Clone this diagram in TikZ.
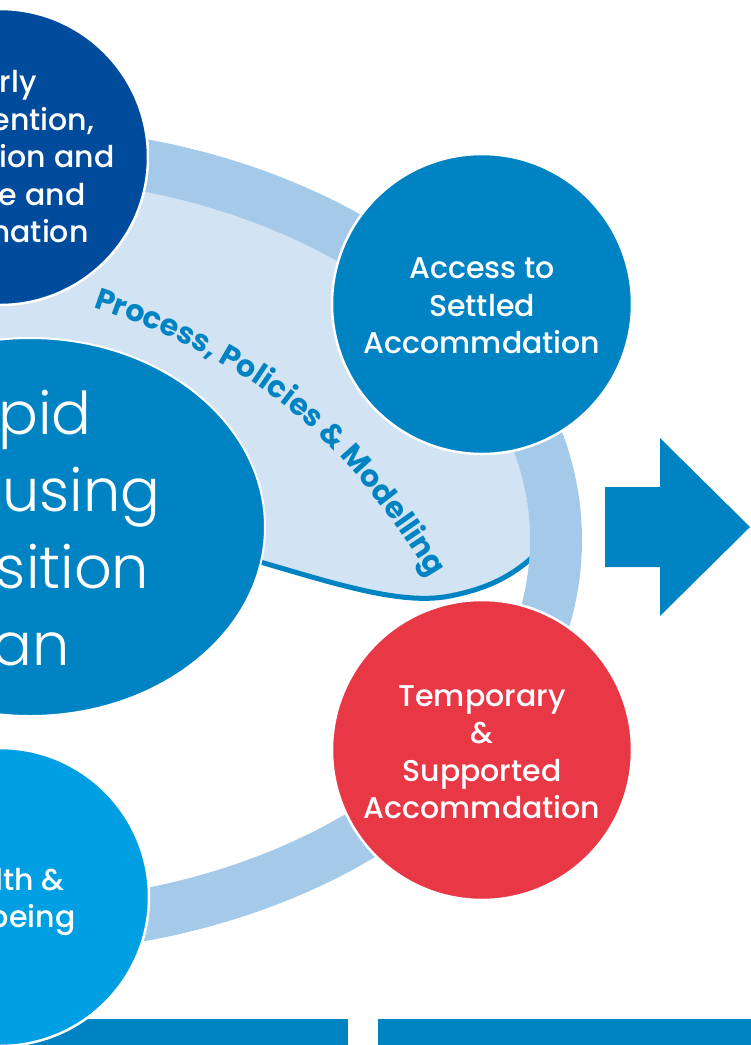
\documentclass[tikz,border=0pt]{standalone}
\usepackage{fontspec}
\usetikzlibrary{shapes.geometric,decorations.text}
\newfontfamily\popL{Poppins Light}
\newfontfamily\popM{Poppins Medium}
\newfontfamily\popB{Poppins Bold}
\definecolor{navy}{HTML}{004B9B}
\definecolor{midblue}{HTML}{0083C3}
\definecolor{skyblue}{HTML}{009FE3}
\definecolor{tomato}{HTML}{E83846}
\definecolor{band}{HTML}{A5C9E8}
\definecolor{paleblue}{HTML}{D2E3F3}
\begin{document}
\begin{tikzpicture}[x=1pt,y=-1pt,
  bubble/.style={circle, minimum size=300pt, inner sep=0pt, draw=white,
    line width=2.5pt},
  bubtext/.style={text=white, align=center,
    font=\popM\fontsize{30}{37.5}\selectfont},
  ring/.style={draw=band, line width=52pt},
]
\useasboundingbox (0,0) rectangle (751,1045);
\clip (0,0) rectangle (751,1045);

% pale area inside the ring, above its curved lower edge
\begin{scope}
  \clip (-20,-20) -- (770,-20) -- (770,548) -- (540,550)
    .. controls (515,575) and (490,588) .. (450,596)
    .. controls (400,606) and (330,582) .. (250,559)
    -- (-20,559) -- cycle;
  \fill[paleblue] (0,540) ellipse [x radius=530pt, y radius=362pt];
\end{scope}
\draw[midblue, line width=5pt] (250,559) .. controls (330,582) and (400,606) .. (450,596)
  .. controls (490,588) and (515,575) .. (540,550);

% the ring linking the themes
\path[ring] (0,540) ellipse [x radius=556pt, y radius=388pt];

% curved label
\path[decorate, decoration={text along path, text align={left indent=14pt},
  text color=midblue,
  text={|\popB\fontsize{30}{30}\selectfont|Process, Policies {\&} Modelling}}]
  (80,303) .. controls (261,362) and (352,440) .. (452,615);

% central plan
\node[ellipse, fill=midblue, draw=white, line width=2pt, minimum width=470pt,
  minimum height=378pt, inner sep=0pt] (plan) at (30,527) {};
\node[text=white, align=center, font=\popL\fontsize{59}{77}\selectfont]
  (plantext) at (8,528) {Rapid\\Rehousing\\Transition\\Plan};

% themes
\node[bubble, fill=navy, minimum size=296pt] (early) at (0,157) {};
\node[bubtext] (earlytext) at (early.center)
  {Early\\Intervention,\\Prevention and\\Advice and\\Information};
\node[bubble, fill=midblue] (settled) at (482,304) {};
\node[bubtext] (settledtext) at ([yshift=-2pt]settled.center)
  {Access to\\Settled\\Accommdation};
\node[bubble, fill=tomato] (temp) at (482,750) {};
\node[bubtext] (temptext) at ([yshift=-2pt]temp.center)
  {Temporary\\\&\\Supported\\Accommdation};

% bottom bars
\fill[midblue] (-10,1019) rectangle (348,1050);
\fill[midblue] (378,1019) rectangle (760,1050);

\node[bubble, fill=skyblue, minimum size=298pt] (health) at (0,897) {};
\node[bubtext] (healthtext) at ([yshift=-5pt]health.center) {Health \&\\Wellbeing};

% arrow to the next stage
\fill[midblue] (605,487) -- (660,487) -- (660,438) -- (750,527) -- (660,616)
  -- (660,567) -- (605,567) -- cycle;
\end{tikzpicture}
\end{document}
